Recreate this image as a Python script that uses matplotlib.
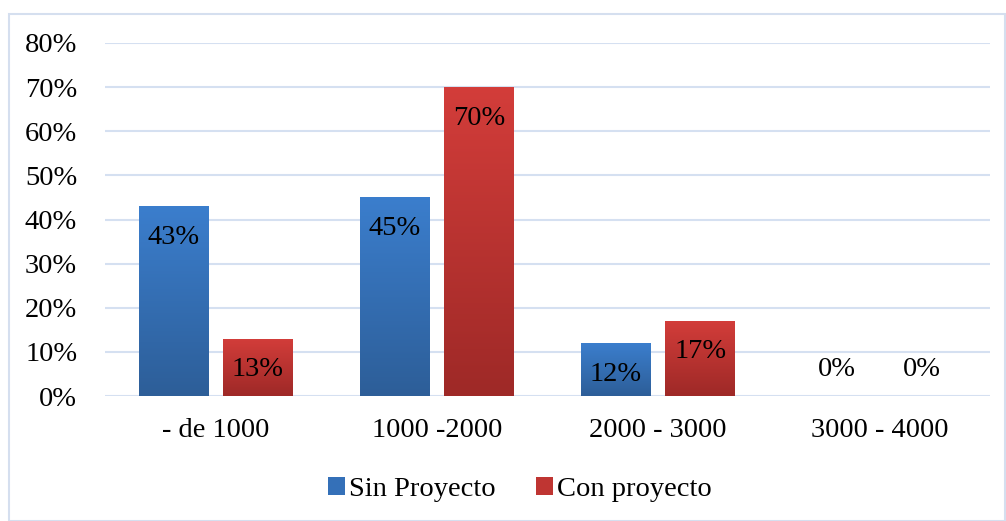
import numpy as np
import matplotlib.pyplot as plt
from matplotlib.colors import LinearSegmentedColormap
from matplotlib.patches import Rectangle

# Datos
categorias = ['- de 1000', '1000 -2000', '2000 - 3000', '3000 - 4000']
sin_proyecto = [0.43, 0.45, 0.12, 0.00]
con_proyecto = [0.13, 0.70, 0.17, 0.00]
series = ['Sin Proyecto', 'Con proyecto']
ticks_y = [0, 0.1, 0.2, 0.3, 0.4, 0.5, 0.6, 0.7, 0.8]

plt.rcParams['font.family'] = ['Liberation Serif', 'DejaVu Serif']

azul = LinearSegmentedColormap.from_list('azul', ['#2D5E98', '#3B7ECD'])
rojo = LinearSegmentedColormap.from_list('rojo', ['#9E2927', '#D33D3A'])

fig = plt.figure(figsize=(10.06, 5.21), dpi=100)
# Borde del gráfico
fig.patches.append(Rectangle((9 / 1006, 0.0), 1 - 9 / 1006 - 0.001, 1 - 14 / 521,
                             transform=fig.transFigure, fill=False,
                             edgecolor='#D5DFEF', linewidth=1.5))

ax = fig.add_axes([105 / 1006, 125 / 521, 885 / 1006, 353 / 521])

x = np.arange(len(categorias))
ancho = 0.316
desp = 0.19

b1 = ax.bar(x - desp, sin_proyecto, ancho, color='#3470B8', label=series[0], zorder=2)
b2 = ax.bar(x + desp, con_proyecto, ancho, color='#BF3532', label=series[1], zorder=2)

# Degradado en las barras
grad = np.linspace(0, 1, 256).reshape(-1, 1)
for barras, cmap in [(b1, azul), (b2, rojo)]:
    for r in barras:
        h = r.get_height()
        if h <= 0:
            continue
        x0 = r.get_x()
        im = ax.imshow(grad, cmap=cmap, origin='lower', aspect='auto',
                       extent=[x0, x0 + r.get_width(), 0, h], zorder=3)
        im.set_clip_path(r)
    for r in barras:
        h = r.get_height()
        if h > 0:
            ax.annotate(f'{h * 100:.0f}%', (r.get_x() + r.get_width() / 2, h),
                        xytext=(0, -31), textcoords='offset pixels',
                        ha='center', va='center', fontsize=20.5, zorder=4)
        else:
            ax.annotate('0%', (r.get_x() + r.get_width() / 2, 0),
                        xytext=(0, 26), textcoords='offset pixels',
                        ha='center', va='center', fontsize=20.5, zorder=4)

ax.set_xlim(-0.5, 3.5)
ax.set_ylim(0, 0.8)
ax.set_yticks(ticks_y)
ax.set_yticklabels([f'{t * 100:.0f}%' for t in ticks_y])
ax.set_xticks(x)
ax.set_xticklabels(categorias)
ax.tick_params(axis='both', length=0, labelsize=20.5)
ax.tick_params(axis='y', pad=20)
ax.tick_params(axis='x', pad=16)
ax.grid(axis='y', color='#D5E0F1', linewidth=1.5, zorder=0)
ax.set_axisbelow(True)
for s in ax.spines.values():
    s.set_visible(False)

ax.legend(loc='center', bbox_to_anchor=(0.469, -0.265), ncol=2, frameon=False,
          fontsize=20.5, handlelength=0.6, handleheight=0.6, handletextpad=0.15,
          columnspacing=1.4)

fig.savefig('out.png', dpi=100)
